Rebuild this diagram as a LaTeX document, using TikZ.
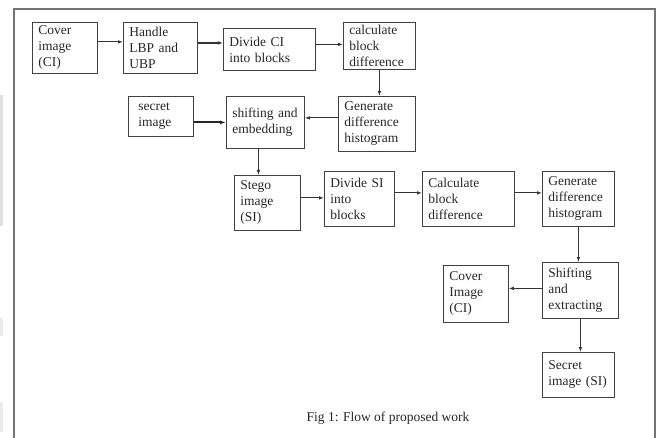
\documentclass[tikz,border=0pt]{standalone}
\usepackage{fontspec}
\setmainfont{Liberation Serif}
\usepackage{tikz}
\usetikzlibrary{arrows.meta,positioning,calc}

\begin{document}
\begin{tikzpicture}[x=1pt, y=-1pt,
  box/.style 2 args={draw=black!75, line width=0.8pt, anchor=north west, align=left,
    inner xsep=6pt, inner ysep=2pt, text width=#1, minimum height=#2,
    font=\fontsize{13.5}{16}\selectfont, text=black!85},
  arr/.style={-{Latex[length=5pt,width=3.5pt]}, line width=0.8pt, black!80},
  thickarr/.style={-{Latex[length=6pt,width=4pt]}, line width=1.8pt, black!85}]
  \useasboundingbox (0,0) rectangle (660,438);

  % page frame and margin strip
  \fill[black!12] (0,95) rectangle (3,226);
  \fill[black!8] (0,318) rectangle (3,336);
  \fill[black!8] (0,402) rectangle (3,432);
  \draw[black!55, line width=1.2pt] (14,438) -- (14,9) -- (655,9) -- (655,438);

  % Embedding, first row
  \node[box={53pt}{51pt}] (cover) at (32,22) {Cover\\image\\(CI)};
  \node[box={62pt}{51pt}] (handle) at (123,22) {Handle\\LBP and\\UBP};
  \node[box={80pt}{42pt}] (divci) at (223,28) {Divide CI\\into blocks};
  \node[box={60pt}{47pt}] (calcci) at (343,22) {calculate\\block\\difference};

  % Embedding, second row
  \node[box={45pt}{40pt}, inner xsep=10pt] (secret) at (128,96) {secret\\image};
  \node[box={66pt}{52pt}] (embed) at (226,96) {shifting and\\embedding\\[8pt]};
  \node[box={65pt}{55pt}] (genci) at (338,96) {Generate\\difference\\histogram};

  % Extraction row
  \node[box={54pt}{55pt}] (stego) at (234,175) {Stego\\image\\(SI)};
  \node[box={58pt}{55pt}] (divsi) at (324,171) {Divide SI\\into\\blocks};
  \node[box={80pt}{55pt}] (calcsi) at (422,171) {Calculate\\block\\difference};
  \node[box={60pt}{55pt}] (gensi) at (542,171) {Generate\\difference\\histogram};

  % Outputs
  \node[box={53pt}{57pt}] (coverout) at (443,265) {Cover\\Image\\(CI)};
  \node[box={64pt}{56pt}] (extract) at (542,262) {Shifting\\and\\extracting};
  \node[box={60pt}{45pt}] (secretout) at (542,352) {Secret\\image (SI)};

  % Caption
  \node[font=\fontsize{13.5}{16}\selectfont, text=black!85] (caption) at (388,418) {Fig 1: Flow of proposed work};

  % Connectors
  \draw[arr] ([yshift=6pt]cover.east) -- ([yshift=6pt]cover.east -| handle.west);
  \draw[arr, line width=1.3pt] ([yshift=5pt]handle.east) -- ([yshift=5pt]handle.east -| divci.west);
  \draw[arr] ([yshift=5pt]divci.east) -- ([yshift=5pt]divci.east -| calcci.west);
  \draw[arr] (calcci.south) -- (calcci.south |- genci.north);
  \draw[arr] ([yshift=6pt]genci.west) -- ([yshift=6pt]genci.west -| embed.east);
  \draw[thickarr] (secret.east |- embed.west) -- (embed.west);
  \draw[arr] ([xshift=-7pt]embed.south) -- ([xshift=-7pt]embed.south |- stego.north);
  \draw[arr] ([yshift=5pt]stego.east) -- ([yshift=5pt]stego.east -| divsi.west);
  \draw[arr] ([yshift=6pt]divsi.east) -- ([yshift=6pt]divsi.east -| calcsi.west);
  \draw[arr] ([yshift=6pt]calcsi.east) -- ([yshift=6pt]calcsi.east -| gensi.west);
  \draw[arr] (gensi.south) -- (gensi.south |- extract.north);
  \draw[arr] ([yshift=2pt]extract.west) -- ([yshift=2pt]extract.west -| coverout.east);
  \draw[arr] (extract.south) -- (extract.south |- secretout.north);
\end{tikzpicture}
\end{document}
